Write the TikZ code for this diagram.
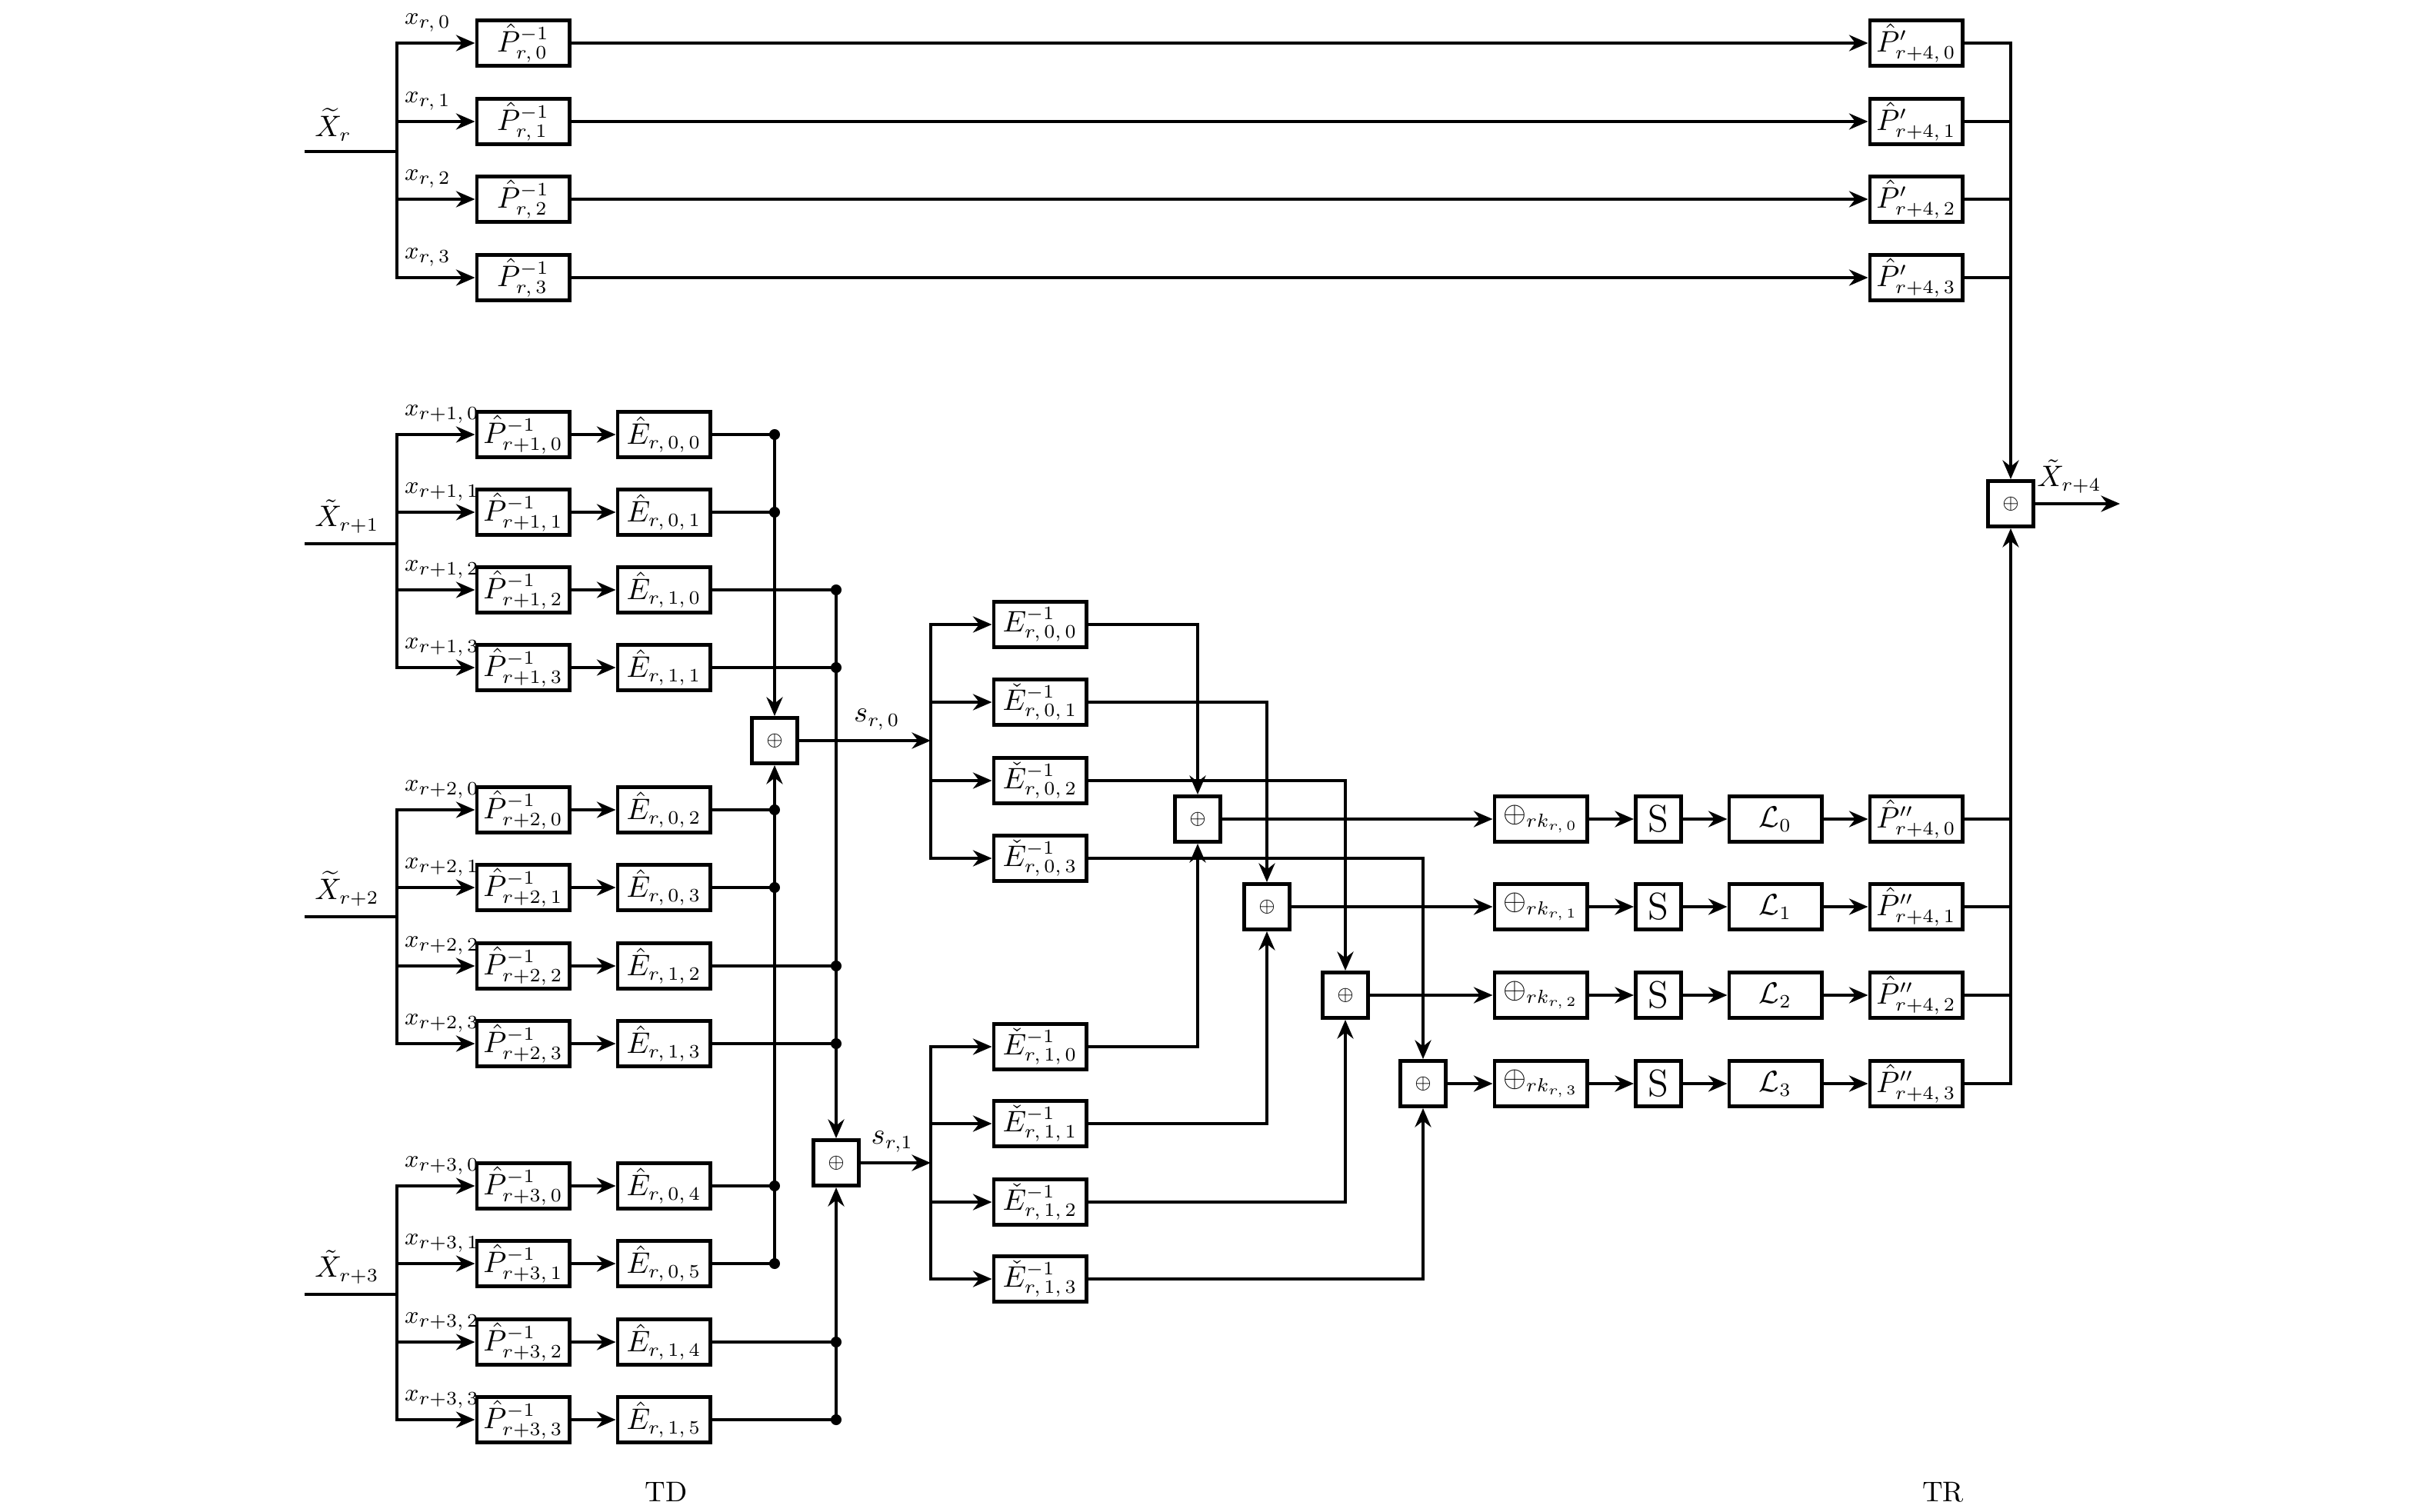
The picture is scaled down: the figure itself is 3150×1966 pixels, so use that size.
\documentclass[tikz,border=0pt]{standalone}
\usepackage{amsmath,amssymb}
\usepackage{tikz}
\usetikzlibrary{arrows.meta,positioning,calc}

\tikzset{
  blk/.style={draw,line width=1.4pt,minimum width=1.2cm,minimum height=0.59cm,inner sep=0pt},
  sqbox/.style={draw,line width=1.4pt,minimum width=0.59cm,minimum height=0.59cm,inner sep=0pt},
  jdot/.style={circle,fill,inner sep=0pt,minimum size=4pt},
  xlbl/.style={anchor=south west,inner sep=1.2pt,xshift=1.2pt,yshift=2.5pt,font=\fontsize{9.3}{11}\selectfont},
}

\begin{document}
\begin{tikzpicture}[x=0.01cm,y=-0.01cm,font=\fontsize{10.5}{12}\selectfont,line width=1pt,>={Stealth[length=7pt,width=6pt,inset=2.3pt]}]
\useasboundingbox (0,0) rectangle (3150,1966);
% round r: straight through to the output permutation
\coordinate (inR) at (396,197);
\coordinate (brR) at (516,197);
\draw (inR) -- (brR) node[pos=0,above right] (lXr) {$\widetilde{X}_r$};
\node[blk] (pr0) at (680,56) {$\hat{P}^{-1}_{r,\,0}$};
\node[blk] (pr1) at (680,158) {$\hat{P}^{-1}_{r,\,1}$};
\node[blk] (pr2) at (680,259) {$\hat{P}^{-1}_{r,\,2}$};
\node[blk] (pr3) at (680,361) {$\hat{P}^{-1}_{r,\,3}$};
\draw[->] (brR) |- node[xlbl] (xr0) {$x_{r,\,0}$} (pr0);
\draw[->] (brR) |- node[xlbl] (xr1) {$x_{r,\,1}$} (pr1);
\draw[->] (brR) |- node[xlbl] (xr2) {$x_{r,\,2}$} (pr2);
\draw[->] (brR) |- node[xlbl] (xr3) {$x_{r,\,3}$} (pr3);
\node[blk] (pq0) at (2491,56) {$\hat{P}'_{r+4,\,0}$};
\node[blk] (pq1) at (2491,158) {$\hat{P}'_{r+4,\,1}$};
\node[blk] (pq2) at (2491,259) {$\hat{P}'_{r+4,\,2}$};
\node[blk] (pq3) at (2491,361) {$\hat{P}'_{r+4,\,3}$};
\draw[->] (pr0) -- (pq0);
\draw[->] (pr1) -- (pq1);
\draw[->] (pr2) -- (pq2);
\draw[->] (pr3) -- (pq3);
\node[sqbox,font=\scriptsize] (sumX) at (2614,655) {$\oplus$};
\draw[->] (pq0) -| (sumX);
\draw (pq1.east) -- (pq1.east -| sumX);
\draw (pq2.east) -- (pq2.east -| sumX);
\draw (pq3.east) -- (pq3.east -| sumX);
\coordinate (outX) at (2756,655);
\draw[->] (sumX) -- (outX) node[pos=0.4,above] (lXo) {$\tilde{X}_{r+4}$};

% round r+1
\coordinate (in1) at (396,707);
\coordinate (br1) at (516,707);
\draw (in1) -- (br1) node[pos=0,above right] (lX1) {$\tilde{X}_{r+1}$};
\node[blk] (p10) at (680,565) {$\hat{P}^{-1}_{r+1,\,0}$};
\node[blk] (p11) at (680,666) {$\hat{P}^{-1}_{r+1,\,1}$};
\node[blk] (p12) at (680,767) {$\hat{P}^{-1}_{r+1,\,2}$};
\node[blk] (p13) at (680,868) {$\hat{P}^{-1}_{r+1,\,3}$};
\draw[->] (br1) |- node[xlbl] (x10) {$x_{r+1,\,0}$} (p10);
\draw[->] (br1) |- node[xlbl] (x11) {$x_{r+1,\,1}$} (p11);
\draw[->] (br1) |- node[xlbl] (x12) {$x_{r+1,\,2}$} (p12);
\draw[->] (br1) |- node[xlbl] (x13) {$x_{r+1,\,3}$} (p13);
\node[blk] (eh00) at (863,565) {$\hat{E}_{r,\,0,\,0}$};
\node[blk] (eh01) at (863,666) {$\hat{E}_{r,\,0,\,1}$};
\node[blk] (eh10) at (863,767) {$\hat{E}_{r,\,1,\,0}$};
\node[blk] (eh11) at (863,868) {$\hat{E}_{r,\,1,\,1}$};
\draw[->] (p10) -- (eh00);
\draw[->] (p11) -- (eh01);
\draw[->] (p12) -- (eh10);
\draw[->] (p13) -- (eh11);

% round r+2
\coordinate (in2) at (396,1192);
\coordinate (br2) at (516,1192);
\draw (in2) -- (br2) node[pos=0,above right] (lX2) {$\widetilde{X}_{r+2}$};
\node[blk] (p20) at (680,1053) {$\hat{P}^{-1}_{r+2,\,0}$};
\node[blk] (p21) at (680,1154) {$\hat{P}^{-1}_{r+2,\,1}$};
\node[blk] (p22) at (680,1256) {$\hat{P}^{-1}_{r+2,\,2}$};
\node[blk] (p23) at (680,1357) {$\hat{P}^{-1}_{r+2,\,3}$};
\draw[->] (br2) |- node[xlbl] (x20) {$x_{r+2,\,0}$} (p20);
\draw[->] (br2) |- node[xlbl] (x21) {$x_{r+2,\,1}$} (p21);
\draw[->] (br2) |- node[xlbl] (x22) {$x_{r+2,\,2}$} (p22);
\draw[->] (br2) |- node[xlbl] (x23) {$x_{r+2,\,3}$} (p23);
\node[blk] (eh02) at (863,1053) {$\hat{E}_{r,\,0,\,2}$};
\node[blk] (eh03) at (863,1154) {$\hat{E}_{r,\,0,\,3}$};
\node[blk] (eh12) at (863,1256) {$\hat{E}_{r,\,1,\,2}$};
\node[blk] (eh13) at (863,1357) {$\hat{E}_{r,\,1,\,3}$};
\draw[->] (p20) -- (eh02);
\draw[->] (p21) -- (eh03);
\draw[->] (p22) -- (eh12);
\draw[->] (p23) -- (eh13);

% round r+3
\coordinate (in3) at (396,1683);
\coordinate (br3) at (516,1683);
\draw (in3) -- (br3) node[pos=0,above right] (lX3) {$\tilde{X}_{r+3}$};
\node[blk] (p30) at (680,1542) {$\hat{P}^{-1}_{r+3,\,0}$};
\node[blk] (p31) at (680,1643) {$\hat{P}^{-1}_{r+3,\,1}$};
\node[blk] (p32) at (680,1745) {$\hat{P}^{-1}_{r+3,\,2}$};
\node[blk] (p33) at (680,1846) {$\hat{P}^{-1}_{r+3,\,3}$};
\draw[->] (br3) |- node[xlbl] (x30) {$x_{r+3,\,0}$} (p30);
\draw[->] (br3) |- node[xlbl] (x31) {$x_{r+3,\,1}$} (p31);
\draw[->] (br3) |- node[xlbl] (x32) {$x_{r+3,\,2}$} (p32);
\draw[->] (br3) |- node[xlbl] (x33) {$x_{r+3,\,3}$} (p33);
\node[blk] (eh04) at (863,1542) {$\hat{E}_{r,\,0,\,4}$};
\node[blk] (eh05) at (863,1643) {$\hat{E}_{r,\,0,\,5}$};
\node[blk] (eh14) at (863,1745) {$\hat{E}_{r,\,1,\,4}$};
\node[blk] (eh15) at (863,1846) {$\hat{E}_{r,\,1,\,5}$};
\draw[->] (p30) -- (eh04);
\draw[->] (p31) -- (eh05);
\draw[->] (p32) -- (eh14);
\draw[->] (p33) -- (eh15);

% the two sums s_{r,0} and s_{r,1}
\node[sqbox,font=\scriptsize] (sumA) at (1007,963) {$\oplus$};
\node[sqbox,font=\scriptsize] (sumB) at (1087,1512) {$\oplus$};
\draw[->] (eh00) -| (sumA);
\draw (eh01.east) -- (eh01.east -| sumA);
\draw (eh02.east) -- (eh02.east -| sumA);
\draw (eh03.east) -- (eh03.east -| sumA);
\draw (eh04.east) -- (eh04.east -| sumA);
\draw[->] (eh05) -| (sumA);
\draw[->] (eh10) -| (sumB);
\draw (eh11.east) -- (eh11.east -| sumB);
\draw (eh12.east) -- (eh12.east -| sumB);
\draw (eh13.east) -- (eh13.east -| sumB);
\draw (eh14.east) -- (eh14.east -| sumB);
\draw[->] (eh15) -| (sumB);
\node[jdot] (d00) at (eh00.east -| sumA) {};
\node[jdot] (d01) at (eh01.east -| sumA) {};
\node[jdot] (d02) at (eh02.east -| sumA) {};
\node[jdot] (d03) at (eh03.east -| sumA) {};
\node[jdot] (d04) at (eh04.east -| sumA) {};
\node[jdot] (d05) at (eh05.east -| sumA) {};
\node[jdot] (d10) at (eh10.east -| sumB) {};
\node[jdot] (d11) at (eh11.east -| sumB) {};
\node[jdot] (d12) at (eh12.east -| sumB) {};
\node[jdot] (d13) at (eh13.east -| sumB) {};
\node[jdot] (d14) at (eh14.east -| sumB) {};
\node[jdot] (d15) at (eh15.east -| sumB) {};

\coordinate (jA) at (1210,963);
\coordinate (jB) at (1210,1512);
\draw[->] (sumA) -- (jA) node[pos=0.59,above] (ls0) {$s_{r,\,0}$};
\draw[->] (sumB) -- (jB) node[pos=0.45,above] (ls1) {$s_{r,1}$};
\node[blk] (ei00) at (1352,812) {$E^{-1}_{r,\,0,\,0}$};
\node[blk] (ei01) at (1352,913) {$\check{E}^{-1}_{r,\,0,\,1}$};
\node[blk] (ei02) at (1352,1015) {$\check{E}^{-1}_{r,\,0,\,2}$};
\node[blk] (ei03) at (1352,1116) {$\check{E}^{-1}_{r,\,0,\,3}$};
\node[blk] (ei10) at (1352,1361) {$\check{E}^{-1}_{r,\,1,\,0}$};
\node[blk] (ei11) at (1352,1461) {$\check{E}^{-1}_{r,\,1,\,1}$};
\node[blk] (ei12) at (1352,1563) {$\check{E}^{-1}_{r,\,1,\,2}$};
\node[blk] (ei13) at (1352,1663) {$\check{E}^{-1}_{r,\,1,\,3}$};
\draw[->] (jA) |- (ei00);
\draw[->] (jA) |- (ei01);
\draw[->] (jA) |- (ei02);
\draw[->] (jA) |- (ei03);
\draw[->] (jB) |- (ei10);
\draw[->] (jB) |- (ei11);
\draw[->] (jB) |- (ei12);
\draw[->] (jB) |- (ei13);

% last round: add, key, S, L, P''
\node[sqbox,font=\scriptsize] (sumC0) at (1557,1065) {$\oplus$};
\node[sqbox,font=\scriptsize] (sumC1) at (1647,1179) {$\oplus$};
\node[sqbox,font=\scriptsize] (sumC2) at (1749,1294) {$\oplus$};
\node[sqbox,font=\scriptsize] (sumC3) at (1850,1409) {$\oplus$};
\draw[->] (ei00) -| (sumC0);
\draw[->] (ei01) -| (sumC1);
\draw[->] (ei02) -| (sumC2);
\draw[->] (ei03) -| (sumC3);
\draw[->] (ei10) -| (sumC0);
\draw[->] (ei11) -| (sumC1);
\draw[->] (ei12) -| (sumC2);
\draw[->] (ei13) -| (sumC3);
\node[blk] (rk0) at (2003,1065) {$\oplus_{rk_{r,\,0}}$};
\node[blk] (rk1) at (2003,1179) {$\oplus_{rk_{r,\,1}}$};
\node[blk] (rk2) at (2003,1294) {$\oplus_{rk_{r,\,2}}$};
\node[blk] (rk3) at (2003,1409) {$\oplus_{rk_{r,\,3}}$};
\node[sqbox,font=\fontsize{14}{16}\selectfont] (sb0) at (2156,1065) {S};
\node[sqbox,font=\fontsize{14}{16}\selectfont] (sb1) at (2156,1179) {S};
\node[sqbox,font=\fontsize{14}{16}\selectfont] (sb2) at (2156,1294) {S};
\node[sqbox,font=\fontsize{14}{16}\selectfont] (sb3) at (2156,1409) {S};
\node[blk] (lt0) at (2308,1065) {$\mathcal{L}_0$};
\node[blk] (lt1) at (2308,1179) {$\mathcal{L}_1$};
\node[blk] (lt2) at (2308,1294) {$\mathcal{L}_2$};
\node[blk] (lt3) at (2308,1409) {$\mathcal{L}_3$};
\node[blk] (pd0) at (2491,1065) {$\hat{P}''_{r+4,\,0}$};
\node[blk] (pd1) at (2491,1179) {$\hat{P}''_{r+4,\,1}$};
\node[blk] (pd2) at (2491,1294) {$\hat{P}''_{r+4,\,2}$};
\node[blk] (pd3) at (2491,1409) {$\hat{P}''_{r+4,\,3}$};
\draw[->] (sumC0) -- (rk0);
\draw[->] (sumC1) -- (rk1);
\draw[->] (sumC2) -- (rk2);
\draw[->] (sumC3) -- (rk3);
\draw[->] (rk0) -- (sb0);
\draw[->] (rk1) -- (sb1);
\draw[->] (rk2) -- (sb2);
\draw[->] (rk3) -- (sb3);
\draw[->] (sb0) -- (lt0);
\draw[->] (sb1) -- (lt1);
\draw[->] (sb2) -- (lt2);
\draw[->] (sb3) -- (lt3);
\draw[->] (lt0) -- (pd0);
\draw[->] (lt1) -- (pd1);
\draw[->] (lt2) -- (pd2);
\draw[->] (lt3) -- (pd3);
\draw (pd0.east) -- (pd0.east -| sumX);
\draw (pd1.east) -- (pd1.east -| sumX);
\draw (pd2.east) -- (pd2.east -| sumX);
\draw[->] (pd3) -| (sumX);

\node (td) at (866,1940) {TD};
\node (tr) at (2526,1940) {TR};
\end{tikzpicture}
\end{document}
